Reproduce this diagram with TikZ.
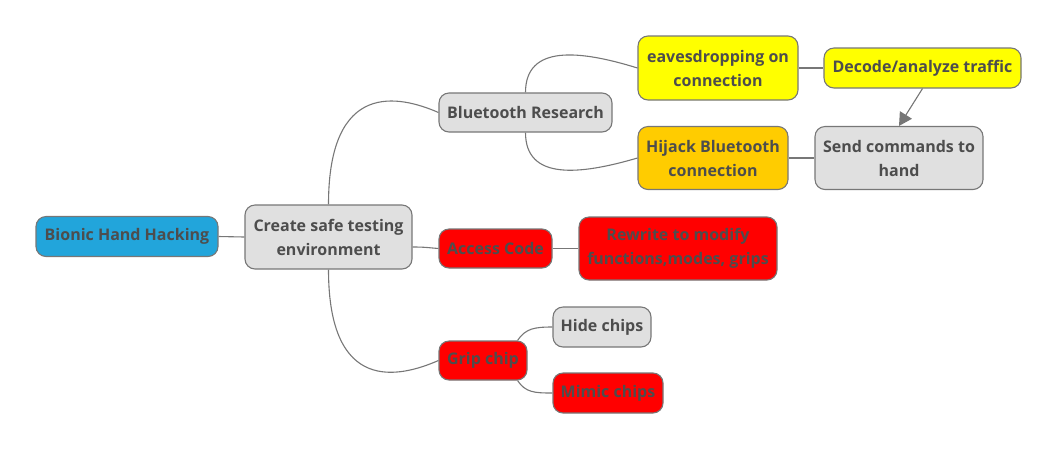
\documentclass[tikz,border=0pt]{standalone}
\usepackage{fontspec}
\setmainfont{Open Sans}
\usetikzlibrary{arrows.meta}
\definecolor{txt}{HTML}{4D4D4D}
\definecolor{edge}{HTML}{777777}
\definecolor{grayfill}{HTML}{E0E0E0}
\definecolor{bluefill}{HTML}{22A5DB}
\definecolor{yellowfill}{HTML}{FFFF00}
\definecolor{orangefill}{HTML}{FFCC00}
\definecolor{redfill}{HTML}{FF0000}
\tikzset{
  topic/.style={draw=edge, line width=1.1pt, rounded corners=10pt, align=center,
    inner sep=0pt, text=txt, font=\fontsize{16}{24}\selectfont\bfseries},
  graytopic/.style={topic, fill=grayfill},
  bluetopic/.style={topic, fill=bluefill},
  yellowtopic/.style={topic, fill=yellowfill},
  orangetopic/.style={topic, fill=orangefill},
  redtopic/.style={topic, fill=redfill},
  link/.style={draw=edge, line width=1.1pt},
  arrowlink/.style={link, -{Triangle[length=13pt,width=14pt]}, fill=edge}
}
\begin{document}
\begin{tikzpicture}[x=1pt,y=-1pt]
\useasboundingbox (0,0) rectangle (1059,451);
\node[bluetopic, minimum width=182pt, minimum height=40pt] (bionic) at (127,236.5) {Bionic Hand Hacking};
\node[graytopic, minimum width=167pt, minimum height=64pt] (create) at (328.5,237) {Create safe testing\\environment};
\node[graytopic, minimum width=173pt, minimum height=39pt] (bt) at (525.5,112.5) {Bluetooth Research};
\node[yellowtopic, minimum width=160pt, minimum height=64pt] (eaves) at (718,68) {eavesdropping on\\connection};
\node[yellowtopic, minimum width=197pt, minimum height=40pt] (decode) at (922.5,68) {Decode/analyze traffic};
\node[orangetopic, minimum width=150pt, minimum height=63pt] (hijack) at (713,158) {Hijack Bluetooth\\connection};
\node[graytopic, minimum width=168pt, minimum height=63pt] (send) at (899,158) {Send commands to\\hand};
\node[redtopic, minimum width=113pt, minimum height=39pt] (access) at (495.5,248.5) {Access Code};
\node[redtopic, minimum width=198pt, minimum height=63pt] (rewrite) at (678,248.5) {Rewrite to modify\\functions,modes, grips};
\node[redtopic, minimum width=88pt, minimum height=39pt] (grip) at (483,360.5) {Grip chip};
\node[graytopic, minimum width=98pt, minimum height=40pt] (hide) at (602,327) {Hide chips};
\node[redtopic, minimum width=110pt, minimum height=40pt] (mimic) at (608,393) {Mimic chips};

\draw[link] (bionic.east) -- (create.west);
\draw[link] (create.north) .. controls +(0,-125) and +(-39,-17) .. (bt.west);
\draw[link] ([yshift=-10pt]create.east) .. controls +(12,0) and +(-12,-1) .. (access.west);
\draw[link] (create.south) .. controls +(0,125) and +(-39,17) .. (grip.west);
\draw[link] (bt.north) .. controls +(0,-48) and +(-58,-18) .. (eaves.west);
\draw[link] (bt.south) .. controls +(0,48) and +(-58,17) .. (hijack.west);
\draw[link] (eaves.east) -- (decode.west);
\draw[link] (hijack.east) -- (send.west);
\draw[link] (access.east) -- (rewrite.west);
\draw[link] ([xshift=-10pt]grip.north east) .. controls +(8,-12) and +(-18,0) .. (hide.west);
\draw[link] ([xshift=-10pt]grip.south east) .. controls +(8,12) and +(-18,0) .. (mimic.west);
\draw[arrowlink] (decode.south) -- (send.north);
\end{tikzpicture}
\end{document}
